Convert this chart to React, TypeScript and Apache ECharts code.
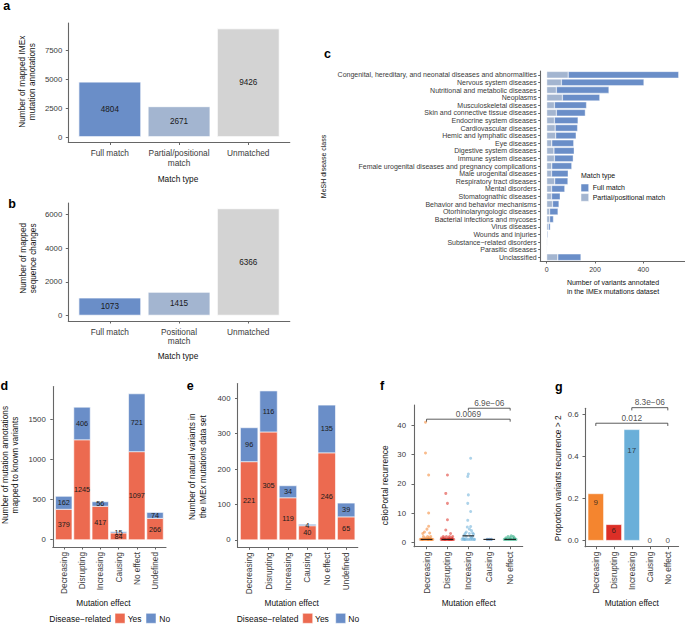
import React, { useEffect, useRef } from 'react';
import * as echarts from 'echarts';

// ---------------- data ----------------
const matchTypesA = ['Full match', 'Partial/positional\nmatch', 'Unmatched'];
const annotationCounts = [4804, 2671, 9426];
const matchTypesB = ['Full match', 'Positional\nmatch', 'Unmatched'];
const sequenceCounts = [1073, 1415, 6366];
const yTicksA = [0, 2500, 5000, 7500];
const yTicksB = [0, 2000, 4000, 6000];

const diseaseClasses = [
  'Congenital, hereditary, and neonatal diseases and abnormalities',
  'Nervous system diseases',
  'Nutritional and metabolic diseases',
  'Neoplasms',
  'Musculoskeletal diseases',
  'Skin and connective tissue diseases',
  'Endocrine system diseases',
  'Cardiovascular diseases',
  'Hemic and lymphatic diseases',
  'Eye diseases',
  'Digestive system diseases',
  'Immune system diseases',
  'Female urogenital diseases and pregnancy complications',
  'Male urogenital diseases',
  'Respiratory tract diseases',
  'Mental disorders',
  'Stomatognathic diseases',
  'Behavior and behavior mechanisms',
  'Otorhinolaryngologic diseases',
  'Bacterial infections and mycoses',
  'Virus diseases',
  'Wounds and injuries',
  'Substance\u2212related disorders',
  'Parasitic diseases',
  'Unclassified',
];
const partialMatchCounts = [89, 61, 40, 65, 32, 40, 32, 35, 37, 21, 30, 32, 21, 20, 33, 20, 20, 24, 12, 12, 7, 1, 3, 2, 46];
const fullMatchCounts = [458, 342, 218, 155, 133, 120, 98, 93, 85, 91, 84, 78, 83, 69, 55, 55, 36, 27, 35, 16, 8, 4, 0, 0, 96];
const xTicksC = [0, 200, 400];

const effects = ['Decreasing', 'Disrupting', 'Increasing', 'Causing', 'No effect', 'Undefined'];
const annotYes = [379, 1245, 417, 84, 1097, 266];
const annotNo = [162, 406, 56, 15, 721, 74];
const yTicksD = [0, 500, 1000, 1500];
const variantYes = [221, 305, 119, 40, 246, 65];
const variantNo = [96, 116, 34, 4, 135, 39];
const yTicksE = [0, 100, 200, 300, 400];

const effectsFG = ['Decreasing', 'Disrupting', 'Increasing', 'Causing', 'No effect'];
const recurrenceDecreasing = [41, 30.5, 23, 10, 5.5, 4.5, 3.5, 3.2, 3, 2, 2, 2, 1.5, 1.5, 1, 1, 1, 1, 1, 1, 1, 1, 1, 1, 1, 1, 1, 1];
const jitterDecreasing = [-0.05, -0.05, 0.1, 0.1, 0.1, 0.02, -0.1, 0.15, -0.18, 0.05, -0.15, 0.2, -0.05, 0.12, -0.3, -0.24, -0.18, -0.12, -0.06, 0, 0.06, 0.12, 0.18, 0.24, 0.3, -0.2, 0.08, 0.22];
const recurrenceDisrupting = [23, 16.7, 13.3, 7.7, 4.2, 3, 2, 2, 2, 2, 1.5, 1.5, 1.5, 1.5, 1, 1, 1, 1, 1, 1, 1, 1, 1, 1, 1, 1, 1, 1, 1, 1];
const jitterDisrupting = [0, -0.08, 0, 0, -0.08, 0.15, -0.2, 0.1, 0.25, -0.05, -0.15, 0.05, 0.2, -0.28, -0.3, -0.25, -0.2, -0.15, -0.1, -0.05, 0, 0.05, 0.1, 0.15, 0.2, 0.25, 0.3, -0.12, 0.08, 0.18];
const recurrenceIncreasing = [28.7, 23.3, 22.5, 16.2, 13.3, 10.5, 7.5, 5.4, 5.2, 4.5, 4, 3.5, 3.2, 3, 3, 2.8, 2.5, 2, 2, 2, 1.5, 1.5, 1, 1, 1, 1, 1, 1, 1, 1, 1, 1];
const jitterIncreasing = [0.11, 0, -0.03, 0, -0.03, 0.11, -0.03, 0.11, -0.05, 0.05, 0.15, -0.1, 0.2, -0.15, 0.05, 0.25, -0.2, 0.1, -0.1, 0.2, -0.25, 0.15, -0.3, -0.22, -0.14, -0.06, 0.02, 0.1, 0.18, 0.26, 0.3, -0.18];
const recurrenceCausing = [1, 1, 1];
const jitterCausing = [-0.1, 0, 0.1];
const recurrenceNoEffect = [2.2, 2, 2, 1.5, 1.5, 1.5, 1, 1, 1, 1, 1, 1, 1, 1];
const jitterNoEffect = [0.05, -0.1, 0.15, -0.2, 0, 0.2, -0.28, -0.2, -0.12, -0.04, 0.04, 0.12, 0.2, 0.28];
const recurrenceMedians = [1, 1, 2.2, 1, 1];
const yTicksF = [0, 10, 20, 30, 40];
const bracketsF = [
  { from: 1, to: 5, y: 42.05, tip: 41.2, label: '0.0069' },
  { from: 3, to: 5, y: 45.8, tip: 45.0, label: '6.9e\u221206' },
];

const proportionRecurrent = [0.225, 0.078, 0.53, 0, 0];
const recurrentCounts = [9, 6, 17, 0, 0];
const countLabelPos = [0.181, 0.048, 0.427, 0, 0];
const yTicksG = [0, 0.2, 0.4, 0.6];
const bracketsG = [
  { from: 1, to: 5, y: 0.559, tip: 0.546, label: '0.012' },
  { from: 3, to: 5, y: 0.633, tip: 0.62, label: '8.3e\u221206' },
];

// ---------------- styles ----------------
const FONT = 'Liberation Sans';
const FULL = '#6a8ec8';
const PARTIAL = '#a3b5d0';
const UNMATCHED = '#d3d3d3';
const YES = '#ec6a50';
const NO = '#6a8ec8';
const matchColors = [FULL, PARTIAL, UNMATCHED];
const effectColors = ['#f4852f', '#dc2f27', '#6aafd9', '#2a6eb0', '#1fa57a'];
const AXIS = '#666';
const TICK = '#3a3a3a';

function yVal(grid: number, min: number, max: number, ticks: number[], margin: number, fmt?: (v: number) => string) {
  return {
    type: 'value', gridIndex: grid, min, max,
    axisLine: { show: true, onZero: false, lineStyle: { color: AXIS, width: 1.1 } },
    axisTick: { show: true, length: 2.5, customValues: ticks, lineStyle: { color: AXIS, width: 1 } },
    axisLabel: { customValues: ticks, formatter: fmt || ((v: number) => String(v)), fontSize: 7.8, color: TICK, margin, fontFamily: FONT },
    splitLine: { show: false },
  };
}

function xCat(grid: number, cats: string[], margin: number, rotate: number) {
  const vals = cats.map((_, i) => i + 1);
  return {
    type: 'value', gridIndex: grid, min: 0.4, max: cats.length + 0.6,
    axisLine: { show: true, onZero: false, lineStyle: { color: AXIS, width: 1.1 } },
    axisTick: { show: true, length: 2.5, customValues: vals, lineStyle: { color: AXIS, width: 1 } },
    axisLabel: {
      customValues: vals, rotate, margin, fontSize: 8.3, color: TICK, lineHeight: 9.5, fontFamily: FONT,
      formatter: (v: number) => cats[Math.round(v) - 1] ?? '',
    },
    splitLine: { show: false },
  };
}

function txt(x: number, y: number, text: string, opts: any = {}) {
  return {
    type: 'text', x, y, rotation: opts.rotation || 0,
    style: {
      text, fontSize: opts.fontSize || 8.3, fontFamily: FONT, fill: opts.fill || '#111',
      align: opts.align || 'center', verticalAlign: 'middle', lineHeight: opts.lineHeight || 10.5,
      fontWeight: opts.fontWeight || 'normal',
    },
  };
}

function rect(x: number, y: number, w: number, h: number, fill: string) {
  return { type: 'rect', shape: { x, y, width: w, height: h }, style: { fill, stroke: '#fff', lineWidth: 0.5 } };
}

function bracketSeries(brackets: any[], ax: number) {
  const out: any[] = [];
  brackets.forEach((b) => {
    out.push({
      type: 'line', xAxisIndex: ax, yAxisIndex: ax, clip: false, symbol: 'none', silent: true,
      lineStyle: { color: '#333', width: 0.8 },
      data: [[b.from, b.tip], [b.from, b.y], [b.to, b.y], [b.to, b.tip]],
    });
  });
  out.push({
    type: 'scatter', xAxisIndex: ax, yAxisIndex: ax, clip: false, symbolSize: 0.1, silent: true,
    itemStyle: { color: 'transparent' },
    label: { show: true, position: 'top', distance: 1.5, formatter: (p: any) => p.name, fontSize: 8.3, color: '#222', fontFamily: FONT },
    data: brackets.map((b) => ({ name: b.label, value: [(b.from + b.to) / 2, b.y] })),
  });
  return out;
}

// stacked Yes/No bars drawn through the axes' scales
function stackedSeries(ax: number, yes: number[], no: number[]) {
  return {
    type: 'custom', xAxisIndex: ax, yAxisIndex: ax, silent: true,
    data: yes.map((v, i) => [i + 1, v, no[i]]),
    renderItem: (params: any, api: any) => {
      const x = api.value(0);
      const y1 = api.value(1);
      const y2 = api.value(2);
      const w = api.size([0.9, 0])[0];
      const p0 = api.coord([x, 0]);
      const p1 = api.coord([x, y1]);
      const p2 = api.coord([x, y1 + y2]);
      const label = (t: number, yy: number) => ({
        type: 'text', x: p0[0], y: yy,
        style: { text: String(t), fontSize: 7.3, fontFamily: FONT, fill: '#1a1a1a', align: 'center', verticalAlign: 'middle' },
      });
      return {
        type: 'group',
        children: [
          { type: 'rect', shape: { x: p0[0] - w / 2, y: p1[1], width: w, height: p0[1] - p1[1] }, style: { fill: YES, stroke: '#fff', lineWidth: 0.6 } },
          { type: 'rect', shape: { x: p0[0] - w / 2, y: p2[1], width: w, height: p1[1] - p2[1] }, style: { fill: NO, stroke: '#fff', lineWidth: 0.6 } },
          label(y1, (p0[1] + p1[1]) / 2),
          label(y2, (p1[1] + p2[1]) / 2),
        ],
      };
    },
  };
}

function buildOption() {
  const PI2 = Math.PI / 2;
  const grids = [
    { left: 68.3, top: 23, width: 221.5, height: 119.5 },
    { left: 68.3, top: 203, width: 221.5, height: 118 },
    { left: 540.2, top: 71, width: 144.8, height: 190 },
    { left: 52.8, top: 386.5, width: 113.2, height: 160.5 },
    { left: 237.5, top: 383.5, width: 120.3, height: 163.8 },
    { left: 414, top: 405, width: 108.7, height: 141.7 },
    { left: 585, top: 408.3, width: 93.6, height: 138.4 },
  ].map((g) => ({ ...g, containLabel: false, outerBoundsMode: 'none' }));

  const xAxis: any[] = [
    xCat(0, matchTypesA, 6, 0),
    xCat(1, matchTypesB, 6, 0),
    {
      type: 'value', gridIndex: 2, min: -27, max: 573,
      axisLine: { show: true, onZero: false, lineStyle: { color: AXIS, width: 1.1 } },
      axisTick: { show: true, length: 2.5, customValues: xTicksC, lineStyle: { color: AXIS } },
      axisLabel: { customValues: xTicksC, formatter: (v: number) => String(v), fontSize: 7, color: TICK, margin: 4.5, fontFamily: FONT },
      splitLine: { show: false },
    },
    xCat(3, effects, 5, 90),
    xCat(4, effects, 5, 90),
    xCat(5, effectsFG, 5, 90),
    xCat(6, effectsFG, 5, 90),
  ];

  const yAxis: any[] = [
    yVal(0, -471, 9897, yTicksA, 6),
    yVal(1, -318, 6684, yTicksB, 6),
    {
      type: 'category', gridIndex: 2, data: diseaseClasses, inverse: true,
      axisLine: { show: true, onZero: false, lineStyle: { color: AXIS, width: 1.1 } },
      axisTick: { show: true, length: 2, alignWithLabel: true, lineStyle: { color: AXIS } },
      axisLabel: { interval: 0, fontSize: 7, color: TICK, margin: 3.5, fontFamily: FONT },
      splitLine: { show: false },
    },
    yVal(3, -91, 1909, yTicksD, 7),
    yVal(4, -21, 442, yTicksE, 7),
    yVal(5, -1.5, 46.9, yTicksF, 8),
    yVal(6, -0.0286, 0.63, yTicksG, 6.5, (v: number) => v.toFixed(1)),
  ];

  const barLabel = (size: number) => ({
    show: true, position: 'inside', fontSize: size, color: '#1a1a1a', fontFamily: FONT,
    formatter: (p: any) => String(p.value[1]),
  });

  const series: any[] = [];
  // a
  series.push({
    type: 'bar', xAxisIndex: 0, yAxisIndex: 0, barWidth: 62.7,
    itemStyle: { borderColor: '#fff', borderWidth: 0.8 },
    label: barLabel(8.2),
    data: annotationCounts.map((v, i) => ({ value: [i + 1, v], itemStyle: { color: matchColors[i] } })),
  });
  // b
  series.push({
    type: 'bar', xAxisIndex: 1, yAxisIndex: 1, barWidth: 62.7,
    itemStyle: { borderColor: '#fff', borderWidth: 0.8 },
    label: barLabel(8.2),
    data: sequenceCounts.map((v, i) => ({ value: [i + 1, v], itemStyle: { color: matchColors[i] } })),
  });
  // c
  series.push({
    type: 'bar', xAxisIndex: 2, yAxisIndex: 2, stack: 'c', barWidth: 6.7,
    itemStyle: { color: PARTIAL, borderColor: '#fff', borderWidth: 0.4 },
    data: partialMatchCounts,
  });
  series.push({
    type: 'bar', xAxisIndex: 2, yAxisIndex: 2, stack: 'c', barWidth: 6.7,
    itemStyle: { color: FULL, borderColor: '#fff', borderWidth: 0.4 },
    data: fullMatchCounts,
  });
  // d, e
  series.push(stackedSeries(3, annotYes, annotNo));
  series.push(stackedSeries(4, variantYes, variantNo));
  // f
  const fVals = [recurrenceDecreasing, recurrenceDisrupting, recurrenceIncreasing, recurrenceCausing, recurrenceNoEffect];
  const fJit = [jitterDecreasing, jitterDisrupting, jitterIncreasing, jitterCausing, jitterNoEffect];
  series.push({
    type: 'scatter', xAxisIndex: 5, yAxisIndex: 5, symbolSize: 3, silent: true,
    data: fVals.flatMap((vals, ci) => vals.map((v, k) => ({
      value: [ci + 1 + fJit[ci][k], v],
      itemStyle: { color: effectColors[ci], opacity: 0.55 },
    }))),
  });
  series.push({
    type: 'custom', xAxisIndex: 5, yAxisIndex: 5, z: 5, silent: true,
    data: recurrenceMedians.map((m, i) => [i + 1, m]),
    renderItem: (params: any, api: any) => {
      const x = api.value(0);
      const y = api.value(1);
      const p1 = api.coord([x - 0.28, y]);
      const p2 = api.coord([x + 0.28, y]);
      return { type: 'line', shape: { x1: p1[0], y1: p1[1], x2: p2[0], y2: p2[1] }, style: { stroke: '#111', lineWidth: 1 } };
    },
  });
  series.push(...bracketSeries(bracketsF, 5));
  // g
  series.push({
    type: 'bar', xAxisIndex: 6, yAxisIndex: 6, barWidth: 16.2,
    itemStyle: { borderColor: '#fff', borderWidth: 0.6 },
    data: proportionRecurrent.map((v, i) => ({ value: [i + 1, v], itemStyle: { color: effectColors[i] } })),
  });
  series.push({
    type: 'scatter', xAxisIndex: 6, yAxisIndex: 6, symbolSize: 0.1, silent: true, clip: false,
    itemStyle: { color: 'transparent' },
    label: { show: true, position: 'inside', fontSize: 8, color: '#1a1a1a', fontFamily: FONT, formatter: (p: any) => p.name },
    data: recurrentCounts.map((c, i) => ({ name: String(c), value: [i + 1, countLabelPos[i]] })),
  });
  series.push(...bracketSeries(bracketsG, 6));

  const letter = (x: number, y: number, t: string) => txt(x, y, t, { fontSize: 12.5, fontWeight: 'bold', align: 'left', fill: '#000', lineHeight: 12.5 });
  const elements: any[] = [
    letter(3.3, 6.3, 'a'), letter(8.3, 204, 'b'), letter(324, 54, 'c'), letter(0.5, 386.4, 'd'),
    letter(186.7, 386.4, 'e'), letter(380, 386.4, 'f'), letter(555, 387, 'g'),
    // y titles
    txt(27, 81.7, 'Number of mapped IMEx\nmutation annotations', { rotation: PI2 }),
    txt(28, 258.3, 'Number of mapped\nsequence changes', { rotation: PI2 }),
    txt(323, 166.5, 'MeSH disease class', { rotation: PI2, fontSize: 7 }),
    txt(9.8, 465, 'Number of mutation annotations\nmapped to known variants', { rotation: PI2 }),
    txt(197.3, 466.7, 'Number of natural variants in\nthe IMEx mutations data set', { rotation: PI2 }),
    txt(385.3, 485.3, 'cBioPortal recurrence', { rotation: PI2 }),
    txt(558.3, 478.3, 'Proportion variants recurrence > 2', { rotation: PI2 }),
    // x titles
    txt(178, 178.7, 'Match type'),
    txt(178, 356, 'Match type'),
    txt(613, 286.5, 'Number of variants annotated\nin the IMEx mutations dataset', { fontSize: 7, lineHeight: 9 }),
    txt(103.5, 603.3, 'Mutation effect'),
    txt(291.7, 603.3, 'Mutation effect'),
    txt(468.8, 603.3, 'Mutation effect'),
    txt(631.8, 603.3, 'Mutation effect'),
    // legend c
    txt(581, 175.5, 'Match type', { fontSize: 7, align: 'left' }),
    rect(581, 184, 7.7, 7.7, FULL),
    txt(592.7, 187.9, 'Full match', { fontSize: 7, align: 'left' }),
    rect(581, 193.6, 7.7, 7.7, PARTIAL),
    txt(592.7, 197.5, 'Partial/positional match', { fontSize: 7, align: 'left' }),
    // legend d
    txt(49.3, 619.3, 'Disease\u2212related', { fontSize: 8.5, align: 'left' }),
    rect(115, 613.3, 10, 10, YES),
    txt(127.7, 619.3, 'Yes', { fontSize: 8.5, align: 'left' }),
    rect(146, 613.3, 10, 10, NO),
    txt(159.3, 619.3, 'No', { fontSize: 8.5, align: 'left' }),
    // legend e
    txt(236.7, 619.3, 'Disease\u2212related', { fontSize: 8.5, align: 'left' }),
    rect(302.7, 613.3, 10, 10, YES),
    txt(315, 619.3, 'Yes', { fontSize: 8.5, align: 'left' }),
    rect(335.7, 613.3, 10, 10, NO),
    txt(348.3, 619.3, 'No', { fontSize: 8.5, align: 'left' }),
  ];

  return {
    animation: false,
    backgroundColor: '#fff',
    textStyle: { fontFamily: FONT },
    grid: grids,
    xAxis,
    yAxis,
    series,
    graphic: { elements },
  };
}

export default function App() {
  const ref = useRef<HTMLDivElement>(null);
  useEffect(() => {
    if (!ref.current) return;
    const chart = echarts.init(ref.current, undefined, { renderer: 'svg' });
    chart.setOption(buildOption() as any);
    return () => chart.dispose();
  }, []);
  return (
    <div
      ref={ref}
      style={{ position: 'absolute', left: 0, top: 0, width: 685, height: 624, background: '#fff' }}
    />
  );
}
